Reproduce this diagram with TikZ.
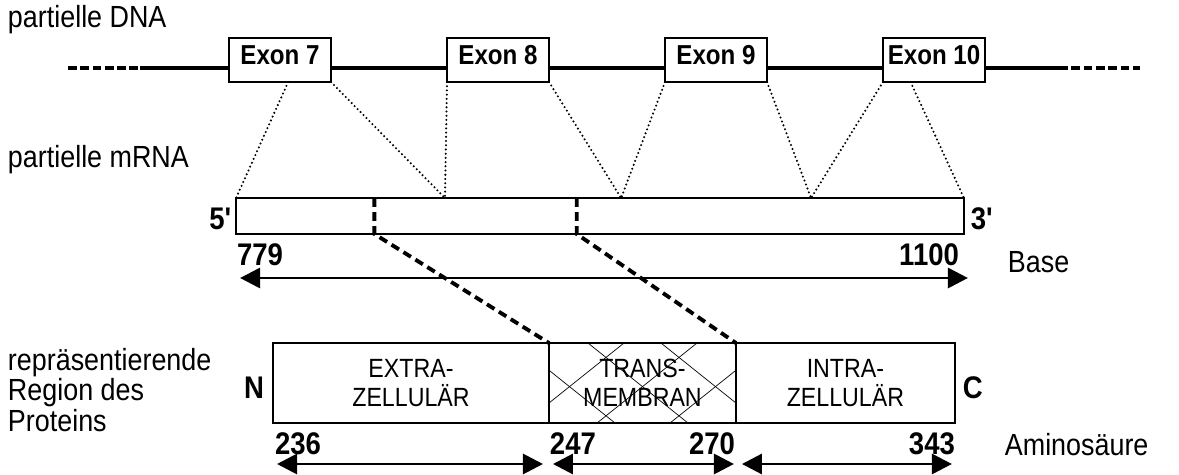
\documentclass[tikz,border=0pt]{standalone}
\usepackage{fontspec}
\setmainfont{Liberation Sans}[FakeStretch=0.88]
\usetikzlibrary{calc,positioning,arrows.meta}

\begin{document}
\begin{tikzpicture}[x=0.02cm,y=-0.02cm,every node/.style={inner sep=0pt,outer sep=0pt},
 exon/.style={draw,line width=0.6pt,minimum width=2.04cm,minimum height=0.88cm,text depth=0.2cm,font=\fontsize{15.6}{17}\selectfont\bfseries},
 lbl/.style={anchor=west,align=left,font=\fontsize{17.4}{17.6}\selectfont},
 num/.style={font=\fontsize{17.8}{19}\selectfont\bfseries},
 region/.style={draw,line width=0.9pt,minimum height=1.6cm,align=center,font=\fontsize{15}{16.6}\selectfont},
 hatch/.style={line width=0.4pt},
 dna/.style={line width=2.3pt},
 dnadash/.style={line width=2.3pt,dash pattern=on 5pt off 2pt},
 dots/.style={line width=1.3pt,line cap=round,dash pattern=on 0pt off 2.4pt},
 cut/.style={line width=2.2pt,dash pattern=on 5pt off 3pt},
 span/.style={line width=1.7pt,{Triangle[length=0.4cm,width=0.4cm]}-{Triangle[length=0.4cm,width=0.4cm]}}]
 \useasboundingbox (0,0) rectangle (1179,474);
 % genomic DNA
 \node at (8,20)[lbl](dnalbl){partielle DNA};
 \node at (280,60)[exon](e7){Exon 7};
 \node at ($(e7)+(218,0)$)[exon](e8){Exon 8};
 \node at ($(e8)+(218,0)$)[exon](e9){Exon 9};
 \node at ($(e9)+(218,0)$)[exon](e10){Exon 10};
 \coordinate (dll) at (68,68);
 \coordinate (dl) at (140,68);
 \coordinate (dr) at (1059,68);
 \coordinate (drr) at (1140,68);
 \draw[dnadash] (dll) -- (dl);
 \draw[dnadash] (dr) -- (drr);
 \draw[dna] (dl) -- (dl -| e7.west) (dl -| e7.east) -- (dl -| e8.west)
  (dl -| e8.east) -- (dl -| e9.west) (dl -| e9.east) -- (dl -| e10.west)
  (dl -| e10.east) -- (dr);
 % mRNA
 \node at (8,160)[lbl](mrnalbl){partielle mRNA};
 \node at (600,216)[draw,line width=1.1pt,minimum width=14.56cm,minimum height=0.72cm](mrna){};
 \coordinate (j1) at ($(mrna.north west)!0.287!(mrna.north east)$);
 \coordinate (j2) at ($(mrna.north west)!0.529!(mrna.north east)$);
 \coordinate (j3) at ($(mrna.north west)!0.790!(mrna.north east)$);
 \path[dots]($(e7.south west)!0.58!(e7.south east)$)edge(mrna.north west);
 \path[dots](e7.south east)edge(j1);
 \path[dots](e8.south west)edge(j1);
 \path[dots](e8.south east)edge(j2);
 \path[dots](e9.south west)edge(j2);
 \path[dots](e9.south east)edge(j3);
 \path[dots](e10.south west)edge(j3);
 \path[dots]($(e10.south west)!0.27!(e10.south east)$)edge(mrna.north east);
 \node at ($(mrna.west)+(-4,3)$)[num,anchor=east](five){5\textquotesingle};
 \node at ($(mrna.east)+(7,3)$)[num,anchor=west](three){3\textquotesingle};
 \node at ($(mrna.south west)+(1,10)$)[num,anchor=north west](b1){779};
 \node at ($(mrna.south east)+(-5,10)$)[num,anchor=north east](b2){1100};
 \node at ($(mrna.east)+(44,46)$)[lbl](baselbl){Base};
 \coordinate (ba) at ($(mrna.south west)+(4,44)$);
 \coordinate (bb) at ($(mrna.south east)+(4,44)$);
 \draw[span] (ba) -- (bb);
 % protein
 \node at (8,390)[lbl](protlbl){repräsentierende\\Region des\\Proteins};
 \node at (411,383)[region,minimum width=5.52cm](extra){EXTRA-\\ZELLULÄR};
 \node[region,minimum width=3.74cm,right=0pt of extra,
  path picture={\foreach \k in {-2,...,2}{
   \draw[hatch] ($(path picture bounding box.north west)+(39+73*\k,0)$) -- ++(100,80);
   \draw[hatch] ($(path picture bounding box.north west)+(148+73*\k,0)$) -- ++(-100,80);}}](tm){TRANS-\\MEMBRAN};
 \node[region,minimum width=4.38cm,right=0pt of tm](intra){INTRA-\\ZELLULÄR};
 \coordinate (c1t) at ($(mrna.north west)!0.19!(mrna.north east)$);
 \coordinate (c1b) at ($(mrna.south west)!0.19!(mrna.south east)$);
 \coordinate (c2t) at ($(mrna.north west)!0.468!(mrna.north east)$);
 \coordinate (c2b) at ($(mrna.south west)!0.468!(mrna.south east)$);
 \draw[cut] (c1t) -- (c1b) -- (tm.north west);
 \draw[cut] (c2t) -- (c2b) -- (tm.north east);
 \node at ($(extra.west)+(-9,5)$)[num,anchor=east](nterm){N};
 \node at ($(intra.east)+(8,5)$)[num,anchor=west](cterm){C};
 \node at ($(extra.south west)+(2,10)$)[num,anchor=north west](a1){236};
 \node at ($(tm.south west)+(1,10)$)[num,anchor=north west](a2){247};
 \node at ($(tm.south east)+(-1,10)$)[num,anchor=north east](a3){270};
 \node at ($(intra.south east)+(0,10)$)[num,anchor=north east](a4){343};
 \node at ($(intra.east)+(50,62)$)[lbl](aalbl){Aminosäure};
 \coordinate (p1) at ($(extra.south west)+(4,41)$);
 \coordinate (p2) at ($(extra.south east)+(-6,41)$);
 \coordinate (p3) at ($(tm.south west)+(4,41)$);
 \coordinate (p4) at ($(tm.south east)+(-2,41)$);
 \coordinate (p5) at ($(intra.south west)+(6,41)$);
 \coordinate (p6) at ($(intra.south east)+(-3,41)$);
 \draw[span] (p1) -- (p2);
 \draw[span] (p3) -- (p4);
 \draw[span] (p5) -- (p6);
\end{tikzpicture}
\end{document}
